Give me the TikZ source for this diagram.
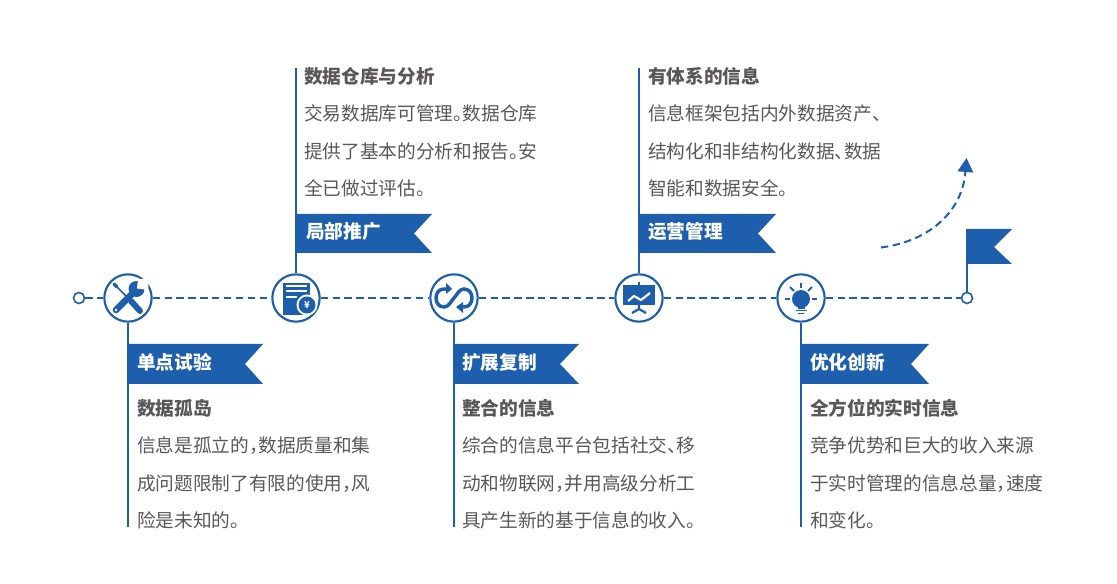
\documentclass[tikz,border=0pt]{standalone}
\usepackage{fontspec}
\setmainfont{Noto Sans CJK SC}[RawFeature=+halt]
\usetikzlibrary{arrows.meta}
\usepackage{xcolor}
\definecolor{steel}{HTML}{1D5FAC}
\definecolor{ink}{HTML}{595757}

\begin{document}
\begin{tikzpicture}[
    x=0.75pt, y=-0.75pt,
    hub/.style={draw=steel, line width=1.6pt, circle, fill=white, minimum size=35.5pt, inner sep=0pt},
    endpoint/.style={draw=steel, line width=1.2pt, circle, fill=white, minimum size=8.25pt, inner sep=0pt},
    track/.style={color=steel, line width=1.5pt, dash pattern=on 5.5pt off 3.4pt},
    stem/.style={color=steel, line width=1.7pt},
    tag/.style={font=\fontsize{14}{16}\selectfont\bfseries, text=white, anchor=west, inner sep=0pt},
    head/.style={font=\fontsize{14}{16}\selectfont\bfseries, text=ink, anchor=west, inner sep=0pt},
    body/.style={font=\fontsize{14}{28.1}\selectfont, text=ink, anchor=north west, inner sep=0pt, align=left},
]
\useasboundingbox (0,0) rectangle (1117,584);

% timeline
\node[endpoint] (start) at (79, 298) {};
\node[hub] (tools) at (128, 298) {};
\node[hub] (bill) at (296, 298) {};
\node[hub] (loop) at (454, 298) {};
\node[hub] (board) at (639, 298) {};
\node[hub] (bulb) at (801, 298) {};
\node[endpoint] (finish) at (967, 298) {};

\draw[track] (start) -- (tools);
\draw[track] (tools) -- (bill);
\draw[track] (bill) -- (loop);
\draw[track] (loop) -- (board);
\draw[track] (board) -- (bulb);
\draw[track] (bulb) -- (finish);

% stems
\coordinate (toolsend) at (128, 527);
\coordinate (billend) at (296, 68);
\coordinate (loopend) at (454, 527);
\coordinate (boardend) at (639, 68);
\coordinate (bulbend) at (801, 527);
\coordinate (flagtop) at (967, 229);
\draw[stem] (tools) -- (toolsend);
\draw[stem] (bill) -- (billend);
\draw[stem] (loop) -- (loopend);
\draw[stem] (board) -- (boardend);
\draw[stem] (bulb) -- (bulbend);
\draw[stem] (finish) -- (flagtop);

% banners
\fill[steel] (128,344) -- (263,344) -- (245,364) -- (263,384) -- (128,384) -- cycle;
\fill[steel] (296,214) -- (432,214) -- (414,233.5) -- (432,253) -- (296,253) -- cycle;
\fill[steel] (454,344) -- (579,344) -- (560,364) -- (579,384) -- (454,384) -- cycle;
\fill[steel] (639,214) -- (776,214) -- (758,233.5) -- (776,253) -- (639,253) -- cycle;
\fill[steel] (801,344) -- (929,344) -- (911,364) -- (929,384) -- (801,384) -- cycle;
\fill[steel] (967,229) -- (1012,229) -- (994,247) -- (1012,264) -- (967,264) -- cycle;

\node[tag] (tag1) at (137, 362.5) {单点试验};
\node[tag] (tag2) at (306, 231.5) {局部推广};
\node[tag] (tag3) at (462, 362.5) {扩展复制};
\node[tag] (tag4) at (648, 231.5) {运营管理};
\node[tag] (tag5) at (810, 362.5) {优化创新};

% texts
\node[head] (head1) at (137, 408.5) {数据孤岛};
\node[body] (body1) at (137, 436.5) {信息是孤立的，数据质量和集\\成问题限制了有限的使用，风\\险是未知的。};
\node[head] (head2) at (304, 76.5) {数据仓库与分析};
\node[body] (body2) at (304, 104.5) {交易数据库可管理。数据仓库\\提供了基本的分析和报告。安\\全已做过评估。};
\node[head] (head3) at (462, 408.5) {整合的信息};
\node[body] (body3) at (462, 436.5) {综合的信息平台包括社交、移\\动和物联网，并用高级分析工\\具产生新的基于信息的收入。};
\node[head] (head4) at (648, 76.5) {有体系的信息};
\node[body] (body4) at (648, 104.5) {信息框架包括内外数据资产、\\结构化和非结构化数据、数据\\智能和数据安全。};
\node[head] (head5) at (810, 408.5) {全方位的实时信息};
\node[body] (body5) at (810, 436.5) {竞争优势和巨大的收入来源\\于实时管理的信息总量，速度\\和变化。};

% rising arrow
\coordinate (risefrom) at (881, 247.5);
\coordinate (riseto) at (966.5, 158);
\draw[track, -{Triangle[length=10.5pt, width=11.5pt]}] (risefrom) .. controls (925, 242) and (962, 215) .. (riseto);

% icon: tools
\begin{scope}[shift={(128,298)}]
\draw[steel, line width=1.3pt] (-12,-12) -- (3,3);
\draw[steel, line width=4.5pt, line cap=round] (3,3) -- (12,13);
\draw[steel, line width=2.6pt, line cap=round] (-14,-14) -- (-11,-11);
\draw[steel, line width=5pt, line cap=round] (-12,12) -- (6,-6);
\fill[steel] (8.5,-9) circle (8);
\fill[white] (9,-9.5) -- (10,-19) -- (21,-19) -- (20,-8) -- cycle;
\fill[white] (-12,12) circle (1.4);
\end{scope}

% icon: bill
\begin{scope}[shift={(296,298)}]
\fill[steel] (-13,-15) rectangle (14,17);
\fill[white] (-10,-13) rectangle (11,-11);
\fill[white] (-10,-8) rectangle (11,-6);
\fill[white] (-10,-2) rectangle (1,0);
\fill[white] (11,7) circle (10.5);
\fill[steel] (11,7) circle (8.5);
\node[text=white, font=\fontsize{7}{7}\selectfont\bfseries, inner sep=0pt] (yen) at (11,7) {¥};
\end{scope}

% icon: loop
\begin{scope}[shift={(454,298)}]
\draw[steel, line width=2.6pt] (-5,-8.5) .. controls (-6,-9) and (-8,-9) .. (-10,-9) .. controls (-15,-9) and (-18,-5) .. (-18,0) .. controls (-18,5) and (-15,9) .. (-10,9) .. controls (-5,9) and (-3,3) .. (0,0) .. controls (3,-3) and (5,-9) .. (10,-9) .. controls (15,-9) and (18,-5) .. (18,0) .. controls (18,5) and (15,9) .. (10,9) .. controls (8,9) and (6,9) .. (5,8.5);
\fill[steel] (-2,-9) -- (-8,-15) -- (-8,-4) -- cycle;
\fill[steel] (2,9) -- (9,4) -- (9,15) -- cycle;
\end{scope}

% icon: board
\begin{scope}[shift={(639,298)}]
\fill[steel] (-16,-13) rectangle (16,7);
\fill[steel] (-1,-16) rectangle (1,-13);
\draw[white, line width=1.6pt] (-11,3) -- (-5,-2) -- (2,2) -- (11,-5);
\draw[steel, line width=1.7pt] (0,7) -- (0,11) -- (-7,15);
\draw[steel, line width=1.7pt] (0,11) -- (7,15);
\end{scope}

% icon: bulb
\begin{scope}[shift={(801,298)}]
\fill[steel] (0,1) circle (9);
\fill[steel] (-3.5,7) rectangle (3.5,11);
\draw[steel, line width=1.2pt] (-5.5,12.5) -- (5.5,12.5);
\draw[steel, line width=1.2pt] (-3,15.5) -- (3,15.5);
\draw[steel, line width=1.4pt] (0,-15) -- (0,-10);
\draw[steel, line width=1.4pt] (-11,-11) -- (-7,-7);
\draw[steel, line width=1.4pt] (11,-11) -- (7,-7);
\draw[steel, line width=1.4pt] (-16,1) -- (-11,1);
\draw[steel, line width=1.4pt] (11,1) -- (16,1);
\end{scope}

\end{tikzpicture}
\end{document}
